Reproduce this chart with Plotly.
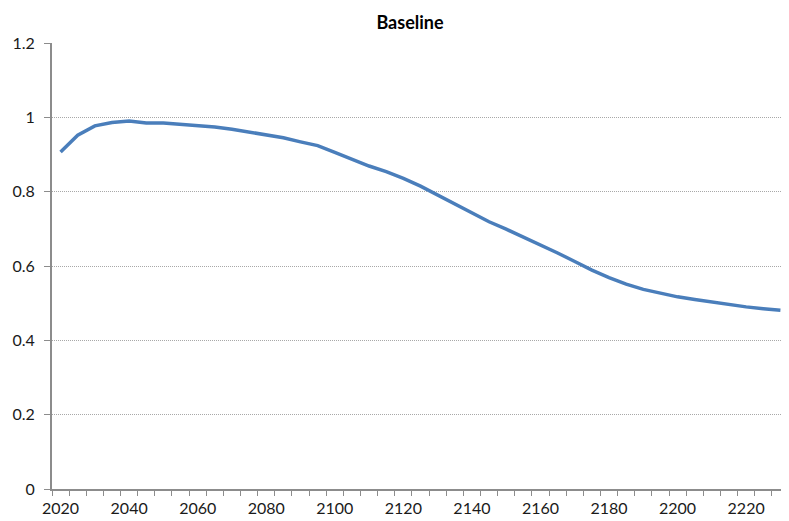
import plotly.graph_objects as go

years = list(range(2020, 2231, 5))
baseline = [0.907, 0.952, 0.977, 0.986, 0.990, 0.985, 0.985, 0.982, 0.979, 0.974,
            0.968, 0.960, 0.954, 0.945, 0.934, 0.924, 0.906, 0.888, 0.869, 0.854,
            0.836, 0.815, 0.791, 0.767, 0.743, 0.719, 0.699, 0.678, 0.657, 0.635,
            0.612, 0.589, 0.569, 0.551, 0.537, 0.526, 0.517, 0.510, 0.503, 0.496,
            0.490, 0.485, 0.481]
x_ticks = list(range(2020, 2221, 20))
y_ticks = [0, 0.2, 0.4, 0.6, 0.8, 1.0, 1.2]
y_labels = ["0", "0.2", "0.4", "0.6", "0.8", "1", "1.2"]

font = "Lato"
W, H = 781, 513   # page body margin of 8px sits to the left/top of the figure

fig = go.Figure()
fig.add_trace(go.Scatter(x=years, y=baseline, mode="lines",
                         line=dict(color="#4a7ebb", width=3.5), showlegend=False))

fig.update_layout(
    width=W, height=H,
    margin=dict(l=44, r=0, t=35, b=32, autoexpand=False),
    paper_bgcolor="white", plot_bgcolor="white",
    font=dict(family=font, size=16, color="#1a1a1a"),
    title=dict(text="<b>Baseline</b>", x=(410 - 8) / W, xanchor="center",
               y=1 - (23 - 8) / H, yanchor="middle",
               font=dict(family=font, size=18, color="#000")),
    xaxis=dict(range=[2017.5, 2232.5], tickvals=x_ticks, ticktext=[str(v) for v in x_ticks],
               ticks="", showgrid=False, zeroline=False, automargin=False,
               showline=True, linecolor="#8c8c8c", linewidth=2,
               ticklabelstandoff=4,
               minor=dict(tick0=2017.5, dtick=5, ticks="outside", ticklen=5,
                          tickcolor="#8c8c8c", tickwidth=1, showgrid=False),
               tickfont=dict(family=font, size=16, color="#1a1a1a")),
    yaxis=dict(range=[0, 1.2], tickvals=y_ticks, ticktext=y_labels,
               ticks="outside", ticklen=6, tickcolor="#8c8c8c", tickwidth=1,
               showgrid=True, gridcolor="#a8a8a8", griddash="1px,1px", gridwidth=1,
               zeroline=False, showline=True, linecolor="#8c8c8c", linewidth=2,
               automargin=False, ticklabelstandoff=6,
               tickfont=dict(family=font, size=16, color="#1a1a1a")),
)

fig.write_html("out.html")
